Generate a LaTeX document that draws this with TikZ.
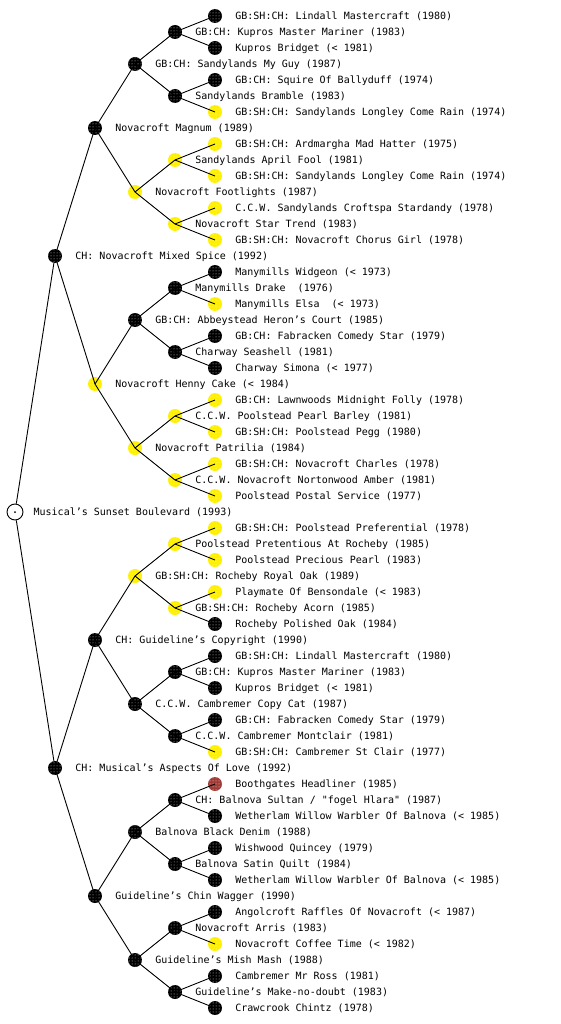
\documentclass[tikz,border=0pt]{standalone}
\usepackage{fontspec}
\newfontfamily\pixfont{DejaVu Sans Mono}
\usetikzlibrary{patterns}
\definecolor{dotyellow}{RGB}{255,240,0}
\definecolor{dotbrown}{RGB}{160,60,55}
\tikzset{
  dog/.style={circle, inner sep=0pt, minimum size=14pt},
  bk/.style={dog, fill=black, postaction={pattern=dots, pattern color=white!85!black}},
  yl/.style={dog, fill=dotyellow, postaction={pattern=dots, pattern color=yellow!35!white}},
  rd/.style={dog, fill=dotbrown, postaction={pattern=dots, pattern color=white!80!red}},
  rootnode/.style={circle, draw=black, fill=white, line width=0.9pt, inner sep=0pt, minimum size=16pt},
  lab/.style={inner sep=0pt, anchor=base west, yshift=-3.7pt, font=\pixfont\fontsize{10}{12}\selectfont, text=black},
  link/.style={draw=black, line width=0.9pt},
}
\begin{document}
\begin{tikzpicture}[x=1pt, y=-1pt]
\useasboundingbox (0,0) rectangle (560,1024);
% ---------- level 0
\node[rootnode, label={[lab, xshift=10pt]east:{Musical’s Sunset Boulevard (1993)}}] (r) at (15,512) {};
% ---------- level 1
\node[bk, label={[lab, xshift=13pt]east:{CH: Novacroft Mixed Spice (1992)}}] (a0) at (55,256) {};
\node[bk, label={[lab, xshift=13pt]east:{CH: Musical’s Aspects Of Love (1992)}}] (a1) at (55,768) {};
% ---------- level 2
\node[bk, label={[lab, xshift=13pt]east:{Novacroft Magnum (1989)}}] (b0) at (95,128) {};
\node[yl, label={[lab, xshift=13pt]east:{Novacroft Henny Cake (< 1984)}}] (b1) at (95,384) {};
\node[bk, label={[lab, xshift=13pt]east:{CH: Guideline’s Copyright (1990)}}] (b2) at (95,640) {};
\node[bk, label={[lab, xshift=13pt]east:{Guideline’s Chin Wagger (1990)}}] (b3) at (95,896) {};
% ---------- level 3
\node[bk, label={[lab, xshift=13pt]east:{GB:CH: Sandylands My Guy (1987)}}] (c0) at (135,64) {};
\node[yl, label={[lab, xshift=13pt]east:{Novacroft Footlights (1987)}}] (c1) at (135,192) {};
\node[bk, label={[lab, xshift=13pt]east:{GB:CH: Abbeystead Heron’s Court (1985)}}] (c2) at (135,320) {};
\node[yl, label={[lab, xshift=13pt]east:{Novacroft Patrilia (1984)}}] (c3) at (135,448) {};
\node[yl, label={[lab, xshift=13pt]east:{GB:SH:CH: Rocheby Royal Oak (1989)}}] (c4) at (135,576) {};
\node[bk, label={[lab, xshift=13pt]east:{C.C.W. Cambremer Copy Cat (1987)}}] (c5) at (135,704) {};
\node[bk, label={[lab, xshift=13pt]east:{Balnova Black Denim (1988)}}] (c6) at (135,832) {};
\node[bk, label={[lab, xshift=13pt]east:{Guideline’s Mish Mash (1988)}}] (c7) at (135,960) {};
% ---------- level 4
\node[bk, label={[lab, xshift=13pt]east:{GB:CH: Kupros Master Mariner (1983)}}] (d0) at (175,32) {};
\node[bk, label={[lab, xshift=13pt]east:{Sandylands Bramble (1983)}}] (d1) at (175,96) {};
\node[yl, label={[lab, xshift=13pt]east:{Sandylands April Fool (1981)}}] (d2) at (175,160) {};
\node[yl, label={[lab, xshift=13pt]east:{Novacroft Star Trend (1983)}}] (d3) at (175,224) {};
\node[bk, label={[lab, xshift=13pt]east:{Manymills Drake~ (1976)}}] (d4) at (175,288) {};
\node[bk, label={[lab, xshift=13pt]east:{Charway Seashell (1981)}}] (d5) at (175,352) {};
\node[yl, label={[lab, xshift=13pt]east:{C.C.W. Poolstead Pearl Barley (1981)}}] (d6) at (175,416) {};
\node[yl, label={[lab, xshift=13pt]east:{C.C.W. Novacroft Nortonwood Amber (1981)}}] (d7) at (175,480) {};
\node[yl, label={[lab, xshift=13pt]east:{Poolstead Pretentious At Rocheby (1985)}}] (d8) at (175,544) {};
\node[yl, label={[lab, xshift=13pt]east:{GB:SH:CH: Rocheby Acorn (1985)}}] (d9) at (175,608) {};
\node[bk, label={[lab, xshift=13pt]east:{GB:CH: Kupros Master Mariner (1983)}}] (d10) at (175,672) {};
\node[bk, label={[lab, xshift=13pt]east:{C.C.W. Cambremer Montclair (1981)}}] (d11) at (175,736) {};
\node[bk, label={[lab, xshift=13pt]east:{CH: Balnova Sultan / "fogel Hlara" (1987)}}] (d12) at (175,800) {};
\node[bk, label={[lab, xshift=13pt]east:{Balnova Satin Quilt (1984)}}] (d13) at (175,864) {};
\node[bk, label={[lab, xshift=13pt]east:{Novacroft Arris (1983)}}] (d14) at (175,928) {};
\node[bk, label={[lab, xshift=13pt]east:{Guideline’s Make-no-doubt (1983)}}] (d15) at (175,992) {};
% ---------- level 5
\node[bk, label={[lab, xshift=13pt]east:{GB:SH:CH: Lindall Mastercraft (1980)}}] (e0) at (215,16) {};
\node[bk, label={[lab, xshift=13pt]east:{Kupros Bridget (< 1981)}}] (e1) at (215,48) {};
\node[bk, label={[lab, xshift=13pt]east:{GB:CH: Squire Of Ballyduff (1974)}}] (e2) at (215,80) {};
\node[yl, label={[lab, xshift=13pt]east:{GB:SH:CH: Sandylands Longley Come Rain (1974)}}] (e3) at (215,112) {};
\node[yl, label={[lab, xshift=13pt]east:{GB:SH:CH: Ardmargha Mad Hatter (1975)}}] (e4) at (215,144) {};
\node[yl, label={[lab, xshift=13pt]east:{GB:SH:CH: Sandylands Longley Come Rain (1974)}}] (e5) at (215,176) {};
\node[yl, label={[lab, xshift=13pt]east:{C.C.W. Sandylands Croftspa Stardandy (1978)}}] (e6) at (215,208) {};
\node[yl, label={[lab, xshift=13pt]east:{GB:SH:CH: Novacroft Chorus Girl (1978)}}] (e7) at (215,240) {};
\node[bk, label={[lab, xshift=13pt]east:{Manymills Widgeon (< 1973)}}] (e8) at (215,272) {};
\node[yl, label={[lab, xshift=13pt]east:{Manymills Elsa~ (< 1973)}}] (e9) at (215,304) {};
\node[bk, label={[lab, xshift=13pt]east:{GB:CH: Fabracken Comedy Star (1979)}}] (e10) at (215,336) {};
\node[bk, label={[lab, xshift=13pt]east:{Charway Simona (< 1977)}}] (e11) at (215,368) {};
\node[yl, label={[lab, xshift=13pt]east:{GB:CH: Lawnwoods Midnight Folly (1978)}}] (e12) at (215,400) {};
\node[yl, label={[lab, xshift=13pt]east:{GB:SH:CH: Poolstead Pegg (1980)}}] (e13) at (215,432) {};
\node[yl, label={[lab, xshift=13pt]east:{GB:SH:CH: Novacroft Charles (1978)}}] (e14) at (215,464) {};
\node[yl, label={[lab, xshift=13pt]east:{Poolstead Postal Service (1977)}}] (e15) at (215,496) {};
\node[yl, label={[lab, xshift=13pt]east:{GB:SH:CH: Poolstead Preferential (1978)}}] (e16) at (215,528) {};
\node[yl, label={[lab, xshift=13pt]east:{Poolstead Precious Pearl (1983)}}] (e17) at (215,560) {};
\node[yl, label={[lab, xshift=13pt]east:{Playmate Of Bensondale (< 1983)}}] (e18) at (215,592) {};
\node[bk, label={[lab, xshift=13pt]east:{Rocheby Polished Oak (1984)}}] (e19) at (215,624) {};
\node[bk, label={[lab, xshift=13pt]east:{GB:SH:CH: Lindall Mastercraft (1980)}}] (e20) at (215,656) {};
\node[bk, label={[lab, xshift=13pt]east:{Kupros Bridget (< 1981)}}] (e21) at (215,688) {};
\node[bk, label={[lab, xshift=13pt]east:{GB:CH: Fabracken Comedy Star (1979)}}] (e22) at (215,720) {};
\node[yl, label={[lab, xshift=13pt]east:{GB:SH:CH: Cambremer St Clair (1977)}}] (e23) at (215,752) {};
\node[rd, label={[lab, xshift=13pt]east:{Boothgates Headliner (1985)}}] (e24) at (215,784) {};
\node[bk, label={[lab, xshift=13pt]east:{Wetherlam Willow Warbler Of Balnova (< 1985)}}] (e25) at (215,816) {};
\node[bk, label={[lab, xshift=13pt]east:{Wishwood Quincey (1979)}}] (e26) at (215,848) {};
\node[bk, label={[lab, xshift=13pt]east:{Wetherlam Willow Warbler Of Balnova (< 1985)}}] (e27) at (215,880) {};
\node[bk, label={[lab, xshift=13pt]east:{Angolcroft Raffles Of Novacroft (< 1987)}}] (e28) at (215,912) {};
\node[yl, label={[lab, xshift=13pt]east:{Novacroft Coffee Time (< 1982)}}] (e29) at (215,944) {};
\node[bk, label={[lab, xshift=13pt]east:{Cambremer Mr Ross (1981)}}] (e30) at (215,976) {};
\node[bk, label={[lab, xshift=13pt]east:{Crawcrook Chintz (1978)}}] (e31) at (215,1008) {};
% ---------- root centre dot
\fill[black] (r.center) circle (1pt);
% ---------- connectors
\draw[link] (r) -- (a0);
\draw[link] (r) -- (a1);
\foreach \p in {0,1} {
  \pgfmathtruncatemacro{\ca}{2*\p}\pgfmathtruncatemacro{\cb}{2*\p+1}
  \draw[link] (a\p.center) -- (b\ca.center);
  \draw[link] (a\p.center) -- (b\cb.center);
}
\foreach \p in {0,...,3} {
  \pgfmathtruncatemacro{\ca}{2*\p}\pgfmathtruncatemacro{\cb}{2*\p+1}
  \draw[link] (b\p.center) -- (c\ca.center);
  \draw[link] (b\p.center) -- (c\cb.center);
}
\foreach \p in {0,...,7} {
  \pgfmathtruncatemacro{\ca}{2*\p}\pgfmathtruncatemacro{\cb}{2*\p+1}
  \draw[link] (c\p.center) -- (d\ca.center);
  \draw[link] (c\p.center) -- (d\cb.center);
}
\foreach \p in {0,...,15} {
  \pgfmathtruncatemacro{\ca}{2*\p}\pgfmathtruncatemacro{\cb}{2*\p+1}
  \draw[link] (d\p.center) -- (e\ca.center);
  \draw[link] (d\p.center) -- (e\cb.center);
}
\end{tikzpicture}
\end{document}
